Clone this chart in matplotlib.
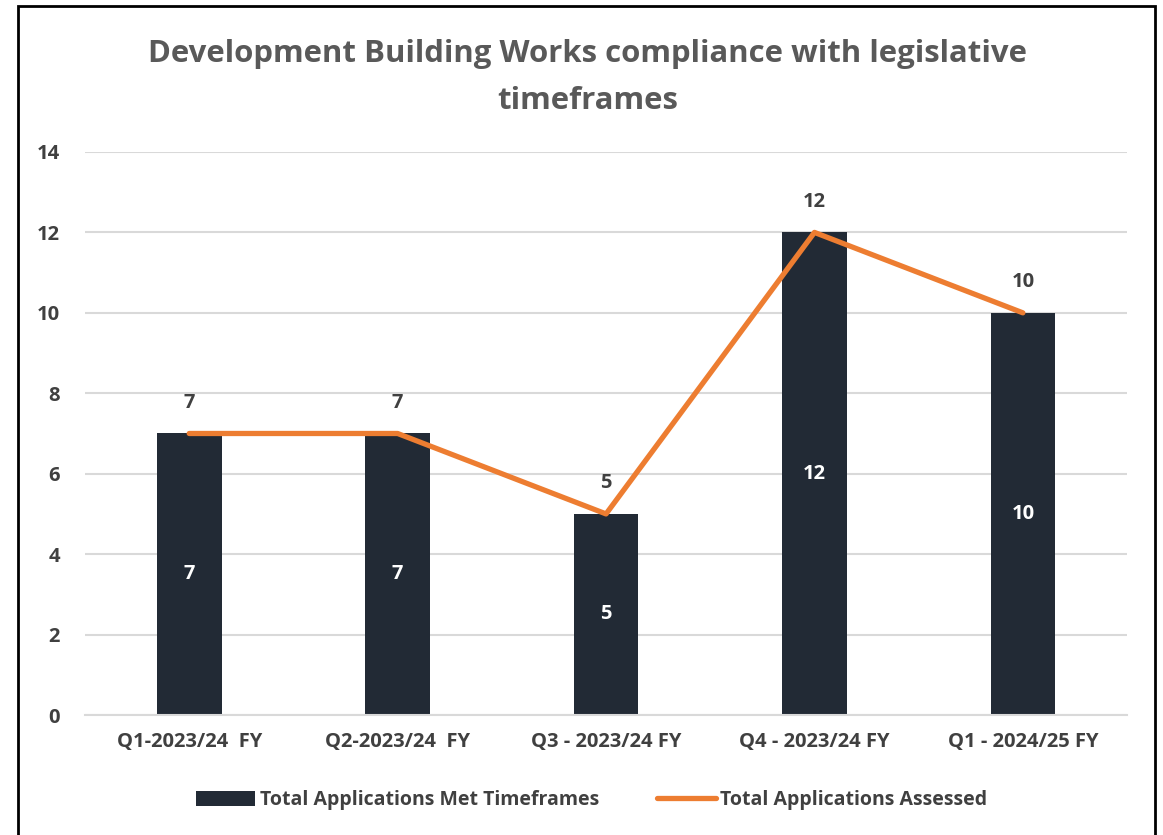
import numpy as np
import matplotlib.pyplot as plt
from matplotlib.patches import Rectangle

# data
quarters = ["Q1-2023/24  FY", "Q2-2023/24  FY", "Q3 - 2023/24 FY",
            "Q4 - 2023/24 FY", "Q1 - 2024/25 FY"]
met_timeframes = [7, 7, 5, 12, 10]
assessed = [7, 7, 5, 12, 10]

BAR_COL = "#222A35"
LINE_COL = "#ED7D31"
TEXT_COL = "#404040"
TITLE_COL = "#595959"
GRID_COL = "#D9D9D9"

plt.rcParams["font.family"] = ["Open Sans", "DejaVu Sans"]
plt.rcParams["font.weight"] = "bold"

fig = plt.figure(figsize=(11.63, 8.35), dpi=100)
ax = fig.add_axes([0.0731, 0.1437, 0.8960, 0.6743])

x = np.arange(len(quarters))
bar_h = ax.bar(x, met_timeframes, width=0.31, color=BAR_COL, zorder=2)
line_h, = ax.plot(x, assessed, color=LINE_COL, linewidth=3.8, zorder=3,
                  solid_capstyle="round")

# labels inside bars
for xi, v in zip(x, met_timeframes):
    ax.text(xi, v / 2, str(v), ha="center", va="center", color="white",
            fontsize=14.5, fontweight="bold", zorder=4)
# labels above line points
for xi, v in zip(x, assessed):
    ax.annotate(str(v), (xi, v), xytext=(0, 15), textcoords="offset points",
                ha="center", va="bottom", color=TEXT_COL,
                fontsize=14.5, fontweight="bold", zorder=4)

ax.set_xlim(-0.5, len(quarters) - 0.5)
ax.set_ylim(0, 14)
ax.set_yticks(range(0, 15, 2))
ax.set_xticks(x)
ax.set_xticklabels(quarters)
ax.yaxis.grid(True, color=GRID_COL, linewidth=1.5, zorder=0)
ax.set_axisbelow(True)
for side in ["top", "right", "left"]:
    ax.spines[side].set_visible(False)
ax.spines["bottom"].set_color(GRID_COL)
ax.spines["bottom"].set_linewidth(1.5)
ax.tick_params(axis="both", length=0, labelsize=14.5, labelcolor=TEXT_COL)
ax.tick_params(axis="x", pad=12)
ax.tick_params(axis="y", pad=18)

fig.text(0.505, 0.907, "Development Building Works compliance with legislative\ntimeframes",
         ha="center", va="center", fontsize=22.4, fontweight="bold",
         color=TITLE_COL, linespacing=1.72)

leg = fig.legend([bar_h, line_h],
                 ["Total Applications Met Timeframes", "Total Applications Assessed"],
                 loc="center", bbox_to_anchor=(0.509, 0.042), ncol=2, frameon=False,
                 fontsize=14, handlelength=3.0, handleheight=0.8,
                 columnspacing=3.0, handletextpad=0.25)
for t in leg.get_texts():
    t.set_color(TEXT_COL)

# frame round the chart
fig.patches.append(Rectangle((18 / 1163, -0.05), (1155 - 18) / 1163, 1.05 - 6 / 835,
                             transform=fig.transFigure, fill=False,
                             edgecolor="black", linewidth=2))

fig.savefig("out.png", dpi=100)
